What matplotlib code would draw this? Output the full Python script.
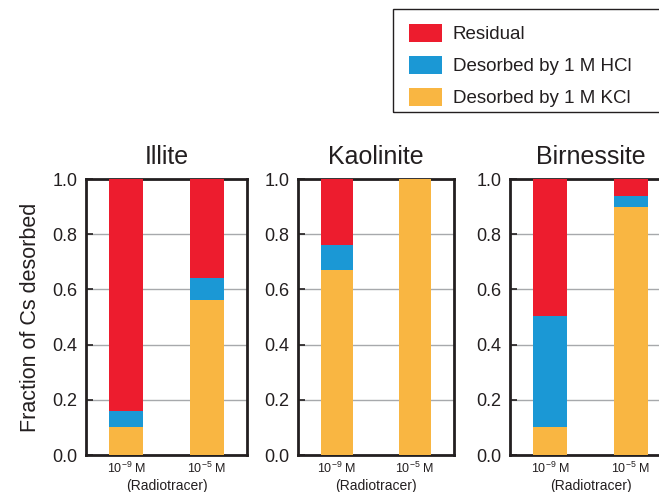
import matplotlib
matplotlib.use('Agg')
import matplotlib.pyplot as plt
from matplotlib.patches import Rectangle
import numpy as np

# data
minerals = ['Illite', 'Kaolinite', 'Birnessite']
conc_labels = ['10$^{\\mathregular{-9}}$ M', '10$^{\\mathregular{-5}}$ M']
kcl = {'Illite': [0.10, 0.56], 'Kaolinite': [0.67, 1.00], 'Birnessite': [0.10, 0.90]}
hcl = {'Illite': [0.06, 0.08], 'Kaolinite': [0.09, 0.00], 'Birnessite': [0.405, 0.04]}
residual = {'Illite': [0.84, 0.36], 'Kaolinite': [0.24, 0.00], 'Birnessite': [0.495, 0.06]}

c_res = '#ED1C2E'
c_hcl = '#1B98D5'
c_kcl = '#F9B642'
txt = '#231F20'

plt.rcParams['font.family'] = ['Liberation Sans', 'DejaVu Sans']

W, H = 659, 492
fig = plt.figure(figsize=(6.59, 4.92), dpi=100)
lefts = [86, 298, 510]
widths = [161, 156, 161]
x = np.array([0, 1])
axes = []
for i, m in enumerate(minerals):
    ax = fig.add_axes([lefts[i] / W, 1 - 455 / H, widths[i] / W, 276 / H])
    axes.append(ax)
    k = np.array(kcl[m]); h = np.array(hcl[m]); r = np.array(residual[m])
    ax.bar(x, k, width=0.42, color=c_kcl, zorder=3, label='Desorbed by 1 M KCl')
    ax.bar(x, h, bottom=k, width=0.42, color=c_hcl, zorder=3, label='Desorbed by 1 M HCl')
    ax.bar(x, r, bottom=k + h, width=0.42, color=c_res, zorder=3, label='Residual')
    ax.set_xlim(-0.5, 1.5)
    ax.set_ylim(0, 1)
    ax.set_yticks(np.arange(0, 1.01, 0.2))
    ax.set_yticklabels(['%.1f' % v for v in np.arange(0, 1.01, 0.2)], fontsize=13, color=txt)
    ax.yaxis.grid(True, color='#A7A9AC', lw=1, zorder=0)
    ax.tick_params(axis='y', direction='in', length=5, width=1.2, color=txt, pad=6)
    ax.set_xticks(x)
    ax.set_xticklabels(conc_labels, fontsize=9, color=txt)
    ax.tick_params(axis='x', length=0, pad=4)
    for s in ax.spines.values():
        s.set_linewidth(2)
        s.set_color(txt)
    ax.set_title(m, fontsize=18, color=txt, pad=11)
    ax.text(0.5, -0.086, '(Radiotracer)', transform=ax.transAxes, ha='center', va='top',
            fontsize=10, color=txt)

axes[0].set_ylabel('Fraction of Cs desorbed', fontsize=15.5, color=txt, labelpad=8)

# legend box runs off the right edge like in the original
fig.patches.append(Rectangle((393 / W, 1 - 112 / H), 300 / W, 103 / H, transform=fig.transFigure,
                             fill=False, edgecolor=txt, lw=1))
h, l = axes[0].get_legend_handles_labels()
leg = fig.legend(h[::-1], l[::-1], loc='upper left', bbox_to_anchor=(405 / W, 1 - 20 / H),
                 fontsize=13.5, frameon=False, handlelength=1.75, handleheight=1.1,
                 borderpad=0.2, labelspacing=0.68, handletextpad=0.6, borderaxespad=0)
for t in leg.get_texts():
    t.set_color(txt)

fig.savefig('out.png', dpi=100)
